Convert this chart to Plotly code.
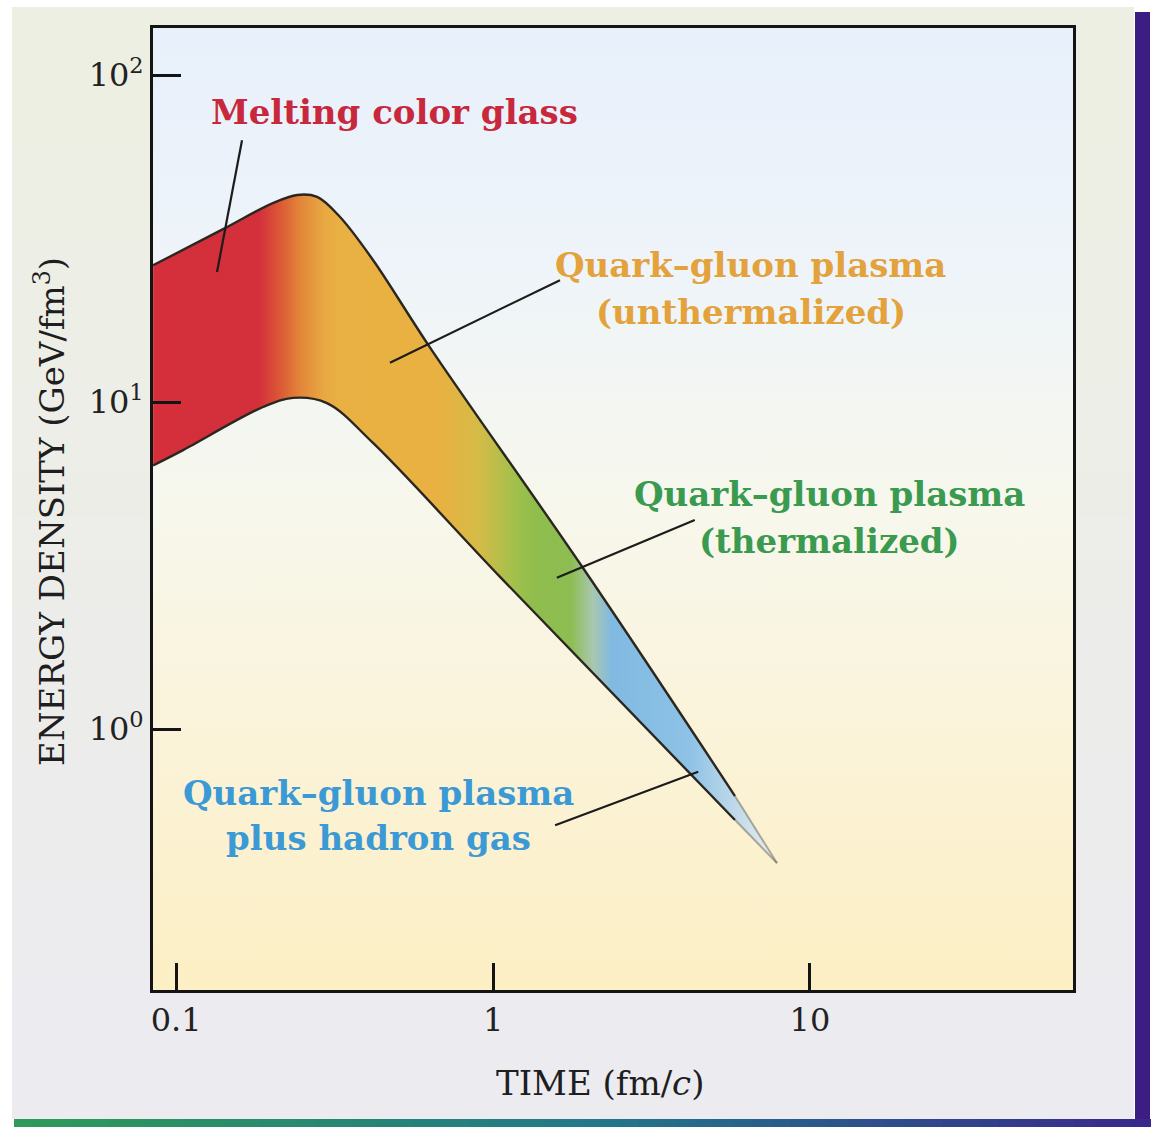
import numpy as np
import plotly.graph_objects as go

# Energy-density band edges: time in fm/c, energy density in GeV/fm^3
upper_time = [0.0846, 0.1406, 0.202, 0.241, 0.2786, 0.329, 0.418, 0.632, 1.923, 5.80, 7.87]
upper_energy = [26.2, 33.8, 40.6, 43.0, 42.4, 36.8, 27.2, 14.7, 3.108, 0.624, 0.389]
lower_time = [0.0846, 0.1052, 0.188, 0.234, 0.299, 0.418, 1.052, 5.80, 7.87]
lower_energy = [6.4, 7.13, 9.66, 10.3, 9.93, 7.50, 2.92, 0.527, 0.389]

# Phase labels (one entry per text line) and their anchor points
label_text = ["Melting color glass",
              "Quark–gluon plasma", "(unthermalized)",
              "Quark–gluon plasma", "(thermalized)",
              "Quark–gluon plasma", "plus hadron gas"]
label_time = [0.488, 6.51, 6.51, 11.56, 11.56, 0.434, 0.434]
label_energy = [77.1, 26.2, 18.8, 5.24, 3.76, 0.637, 0.465]
label_color = ["#c8283c", "#e3a23c", "#e3a23c", "#3a9a50", "#3a9a50", "#3b9ad6", "#3b9ad6"]

# Leader lines from each label into the band
leader_time = [[0.1614, 0.1346], [1.626, 0.473], [4.33, 1.59], [4.44, 1.57]]
leader_energy = [[63.2, 25.0], [23.6, 13.2], [4.36, 2.90], [0.740, 0.508]]

# Axes
x_tickvals = [0.1, 1, 10]
x_ticktext = ["0.1", "1", "10"]
y_tickvals = [1, 10, 100]
y_ticktext = ["10<sup>0</sup>", "10<sup>1</sup>", "10<sup>2</sup>"]
x_range = [-1.073, 1.83]
y_range = [-0.798, 2.144]

W, H = 1154, 1127
ML, MR, MT, MB = 153, 81, 28, 137
FONT = "DejaVu Serif"


def px_x(px):
    return (px - ML) / (W - ML - MR)


def px_y(py):
    return (H - MB - py) / (H - MT - MB)


fig = go.Figure()

# Plot-area background: pale blue at top fading to pale yellow at bottom
x_lo, x_hi = 10 ** x_range[0], 10 ** x_range[1]
y_lo, y_hi = 10 ** y_range[0], 10 ** y_range[1]
fig.add_trace(go.Scatter(
    x=[x_lo, x_hi, x_hi, x_lo, x_lo], y=[y_lo, y_lo, y_hi, y_hi, y_lo],
    mode="lines", line=dict(width=0), fill="toself",
    fillgradient=dict(type="vertical", colorscale=[
        [0, "#fcefc4"], [0.25, "#fbf3d8"], [0.5, "#f7f7ec"],
        [0.75, "#eef4f9"], [1, "#e8f0fb"]]),
    hoverinfo="skip", showlegend=False))

# Band: lower edge, then upper edge filled down to it with a phase gradient
band_colors = [
    [0, "#d42f3b"], [0.17, "#d3303b"], [0.205, "#dc5a36"], [0.235, "#e2853a"],
    [0.275, "#e8a942"], [0.3, "#e9b143"], [0.46, "#e8b141"], [0.52, "#d6bb47"],
    [0.58, "#a2c04c"], [0.61, "#90bd4c"], [0.67, "#8dbd52"], [0.705, "#a9c7b0"],
    [0.735, "#80b9e1"], [0.86, "#8ec2e6"], [0.94, "#c4dbea"], [1.0, "#eef2ee"]]
fig.add_trace(go.Scatter(
    x=lower_time, y=lower_energy, mode="lines",
    line=dict(width=0, shape="spline", color="rgba(0,0,0,0)"),
    hoverinfo="skip", showlegend=False))
fig.add_trace(go.Scatter(
    x=upper_time, y=upper_energy, mode="lines",
    line=dict(width=0, shape="spline", color="rgba(0,0,0,0)"),
    fill="tonexty",
    fillgradient=dict(type="horizontal", colorscale=band_colors),
    hoverinfo="skip", showlegend=False))

# Band outlines: dark along most of the length, fading toward the tip
for tt, ee in ((upper_time, upper_energy), (lower_time, lower_energy)):
    fig.add_trace(go.Scatter(
        x=tt[:-1], y=ee[:-1], mode="lines",
        line=dict(width=2.4, shape="spline", color="#2a2620"),
        hoverinfo="skip", showlegend=False))
    fig.add_trace(go.Scatter(
        x=tt[-2:], y=ee[-2:], mode="lines",
        line=dict(width=2, color="rgba(90,85,70,0.45)"),
        hoverinfo="skip", showlegend=False))

# Leader lines
for tt, ee in zip(leader_time, leader_energy):
    fig.add_trace(go.Scatter(
        x=tt, y=ee, mode="lines", line=dict(width=2.2, color="#1c1c1c"),
        hoverinfo="skip", showlegend=False))

# Phase labels
for txt, t, e, c in zip(label_text, label_time, label_energy, label_color):
    fig.add_annotation(
        x=np.log10(t), y=np.log10(e), xref="x", yref="y", text=txt,
        showarrow=False, xanchor="center", yanchor="middle",
        font=dict(family=FONT, size=34, color=c, weight="bold"))

# Axis titles
fig.add_annotation(
    x=px_x(600), y=px_y(1083), xref="paper", yref="paper",
    text="TIME (fm/<i>c</i>)", showarrow=False, xanchor="center", yanchor="middle",
    font=dict(family=FONT, size=34, color="#1e1e1e"))
fig.add_annotation(
    x=px_x(50), y=px_y(512), xref="paper", yref="paper",
    text="ENERGY DENSITY (GeV/fm<sup>3</sup>)", showarrow=False, textangle=-90,
    xanchor="center", yanchor="middle",
    font=dict(family=FONT, size=34, color="#1e1e1e"))

# Page frame: cream panel, purple edge on the right, coloured rule at the bottom
shapes = []
panel_top = np.array([0xee, 0xf0, 0xe2])
panel_bot = np.array([0xec, 0xeb, 0xf1])
n_strips = 24
for i in range(n_strips):
    y0 = 7 + i * (1118 - 7) / n_strips
    y1 = 7 + (i + 1) * (1118 - 7) / n_strips + 1
    c = panel_top + (panel_bot - panel_top) * (i + 0.5) / n_strips
    shapes.append(dict(type="rect", xref="paper", yref="paper", layer="below",
                       x0=px_x(12), x1=px_x(1134), y0=px_y(y1), y1=px_y(y0),
                       line=dict(width=0),
                       fillcolor="rgb(%d,%d,%d)" % tuple(c.astype(int))))
shapes.append(dict(type="rect", xref="paper", yref="paper", layer="below",
                   x0=px_x(1135), x1=px_x(1150), y0=px_y(1124), y1=px_y(12),
                   line=dict(width=0), fillcolor="#3b1d84"))
rule_stops = [(14, (47, 154, 88)), (600, (34, 120, 138)), (1150, (58, 40, 140))]
n_seg = 60
for i in range(n_seg):
    xa = 14 + i * (1150 - 14) / n_seg
    xb = 14 + (i + 1) * (1150 - 14) / n_seg + 1
    xm = (xa + xb) / 2
    xs = [s[0] for s in rule_stops]
    col = [int(np.interp(xm, xs, [s[1][k] for s in rule_stops])) for k in range(3)]
    shapes.append(dict(type="rect", xref="paper", yref="paper", layer="below",
                       x0=px_x(xa), x1=px_x(xb), y0=px_y(1127), y1=px_y(1119),
                       line=dict(width=0), fillcolor="rgb(%d,%d,%d)" % tuple(col)))

axis_common = dict(
    type="log", showgrid=False, zeroline=False, showline=True, linewidth=3,
    linecolor="#141414", mirror=True, ticks="inside", tickwidth=3,
    tickcolor="#141414", automargin=False,
    tickfont=dict(family=FONT, size=32, color="#222222"))

fig.update_layout(
    width=W, height=H,
    margin=dict(l=ML, r=MR, t=MT, b=MB, autoexpand=False),
    paper_bgcolor="#ffffff", plot_bgcolor="rgba(0,0,0,0)",
    showlegend=False, shapes=shapes,
    xaxis=dict(axis_common, range=x_range, tickvals=x_tickvals, ticktext=x_ticktext,
               ticklen=27),
    yaxis=dict(axis_common, range=y_range, tickvals=y_tickvals, ticktext=y_ticktext,
               ticklen=28),
)

fig.write_html("out.html")
